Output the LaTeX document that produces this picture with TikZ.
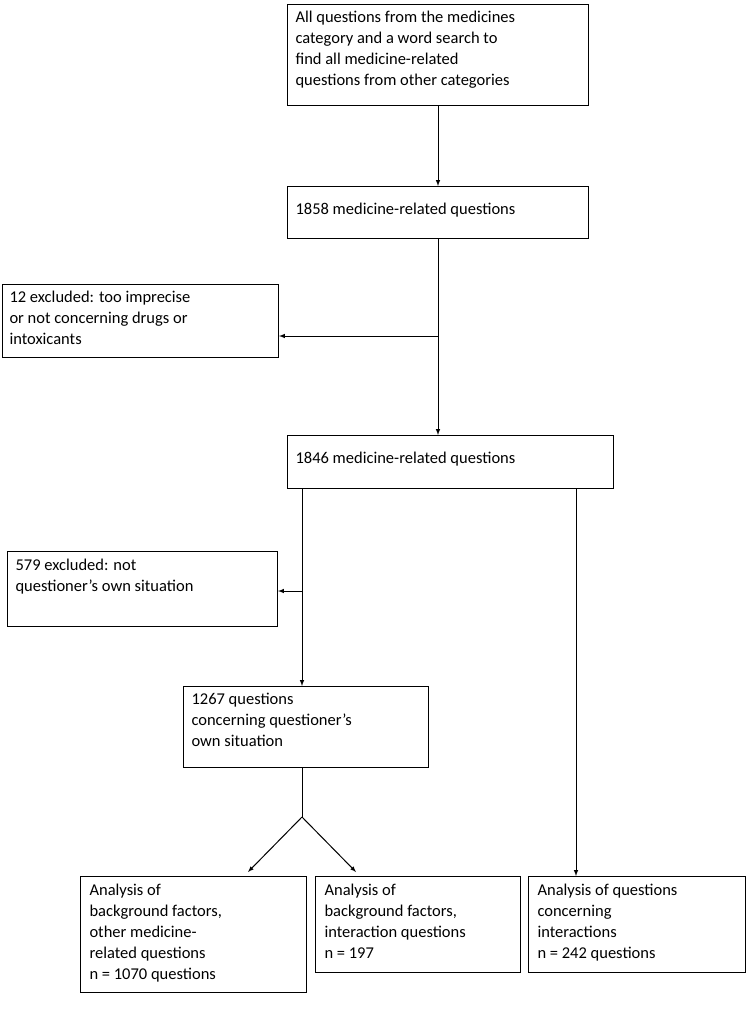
\documentclass[tikz,border=0pt]{standalone}
\usepackage{fontspec}
\setmainfont{Carlito}
\usetikzlibrary{positioning}

\tikzset{
  box/.style={draw, line width=1pt, anchor=north west, align=left, inner sep=0pt,
    font=\fontsize{16.5}{21}\selectfont},
  arr/.style={line width=1pt, -latex}
}

\begin{document}
\begin{tikzpicture}[x=1pt, y=-1pt]
    \useasboundingbox (0,0) rectangle (750,1036);

    % Main column
    \node[box, minimum width=301, minimum height=101] (all) at (287,4) {};
    \node[anchor=north west, align=left, font=\fontsize{16.5}{21}\selectfont] at (292,8)
        {All questions from the medicines\\category and a word search to\\find all medicine-related\\questions from other categories};
    \node[box, minimum width=301, minimum height=52] (q1858) at (287,186) {};
    \node[anchor=west, font=\fontsize{16.5}{21}\selectfont] at (292,210) {1858 medicine-related questions};
    \node[box, minimum width=276, minimum height=73] (ex12) at (2,284) {};
    \node[anchor=north west, align=left, font=\fontsize{16.5}{21}\selectfont] at (6,288)
        {12 excluded: too imprecise\\or not concerning drugs or\\intoxicants};
    \node[box, minimum width=326, minimum height=53] (q1846) at (287,435) {};
    \node[anchor=west, font=\fontsize{16.5}{21}\selectfont] at (292,459) {1846 medicine-related questions};
    \node[box, minimum width=270, minimum height=75] (ex579) at (7,551) {};
    \node[anchor=north west, align=left, font=\fontsize{16.5}{21}\selectfont] at (12,556)
        {579 excluded: not\\questioner's own situation};
    \node[box, minimum width=245, minimum height=81] (q1267) at (183,686) {};
    \node[anchor=north west, align=left, font=\fontsize{16.5}{21}\selectfont] at (188,690)
        {1267 questions\\concerning questioner's\\own situation};

    % Analysis boxes
    \node[box, minimum width=226, minimum height=116] (other) at (80,876) {};
    \node[anchor=north west, align=left, font=\fontsize{16.5}{21}\selectfont] at (86,880)
        {Analysis of\\background factors,\\other medicine-\\related questions\\n = 1070 questions};
    \node[box, minimum width=205, minimum height=96] (inter) at (315,876) {};
    \node[anchor=north west, align=left, font=\fontsize{16.5}{21}\selectfont] at (321,880)
        {Analysis of\\background factors,\\interaction questions\\n = 197};
    \node[box, minimum width=217, minimum height=96] (quest) at (528,876) {};
    \node[anchor=north west, align=left, font=\fontsize{16.5}{21}\selectfont] at (534,880)
        {Analysis of questions\\concerning\\interactions\\n = 242 questions};

    % Connectors
    \coordinate (s1) at (438,336);
    \coordinate (s2) at (302,591);
    \coordinate (s3) at (576,0);
    \coordinate (fork) at (302,817);
    \draw[arr] (all.south -| s1) -- (q1858.north -| s1);
    \draw[arr] (q1858.south -| s1) -- (q1846.north -| s1);
    \draw[arr] (s1) -- (ex12.east |- s1);
    \draw[arr] (q1846.south -| s2) -- (q1267.north -| s2);
    \draw[arr] (s2) -- (ex579.east |- s2);
    \draw[arr] (q1846.south -| s3) -- (quest.north -| s3);
    \draw[line width=1pt] (q1267.south -| fork) -- (fork);
    \draw[arr] (fork) -- (248,872);
    \draw[arr] (fork) -- (356,872);
\end{tikzpicture}
\end{document}
